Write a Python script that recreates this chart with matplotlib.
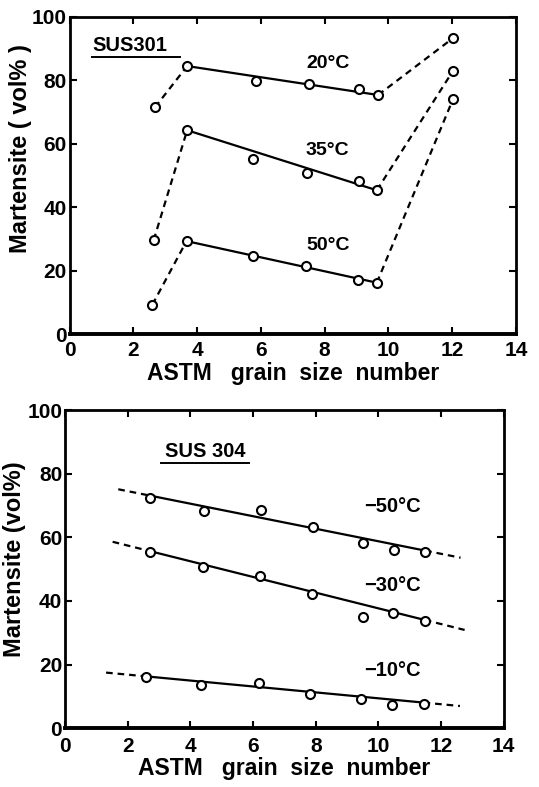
"""Martensite volume vs. ASTM grain size number for SUS301 and SUS304."""

import matplotlib

matplotlib.use("Agg")

import matplotlib.pyplot as plt  # noqa: E402
import numpy as np  # noqa: E402

plt.rcParams["font.family"] = ["Liberation Sans", "DejaVu Sans"]
plt.rcParams["font.weight"] = "bold"

# --- SUS301: measured points (grain size number, martensite vol%) ---
sus301_labels = ["20°C", "35°C", "50°C"]
sus301_x_20 = [2.68, 3.69, 5.85, 7.52, 9.08, 9.68, 12.03]
sus301_y_20 = [71.5, 84.5, 79.9, 78.7, 77.4, 75.4, 93.3]
sus301_x_35 = [2.64, 3.69, 5.76, 7.46, 9.08, 9.64, 12.03]
sus301_y_35 = [29.7, 64.3, 55.4, 50.9, 48.3, 45.4, 83.0]
sus301_x_50 = [2.60, 3.67, 5.74, 7.42, 9.05, 9.64, 12.03]
sus301_y_50 = [9.4, 29.4, 24.7, 21.6, 17.3, 16.3, 74.1]
sus301_label_xy = [(8.1, 85.4), (8.1, 58.0), (8.1, 28.1)]

# --- SUS304: measured points and straight trend lines ---
sus304_labels = ["−50°C", "−30°C", "−10°C"]
sus304_x_m50 = [2.70, 4.44, 6.24, 7.92, 9.50, 10.51, 11.49]
sus304_y_m50 = [72.3, 68.3, 68.6, 63.3, 58.3, 56.0, 55.5]
sus304_x_m30 = [2.70, 4.39, 6.21, 7.89, 9.50, 10.48, 11.48]
sus304_y_m30 = [55.3, 50.6, 47.9, 42.2, 35.1, 36.1, 33.8]
sus304_x_m10 = [2.58, 4.34, 6.18, 7.81, 9.45, 10.44, 11.44]
sus304_y_m10 = [16.0, 13.6, 14.1, 10.8, 9.2, 7.3, 7.6]
trend_x_m50 = [1.70, 12.62]
trend_y_m50 = [75.1, 53.6]
trend_x_m30 = [1.52, 12.75]
trend_y_m30 = [58.6, 30.9]
trend_x_m10 = [1.31, 12.60]
trend_y_m10 = [17.5, 7.0]
sus304_label_xy = [(10.46, 69.6), (10.46, 45.0), (10.46, 18.3)]

x_ticks = [0, 2, 4, 6, 8, 10, 12, 14]
y_ticks = [0, 20, 40, 60, 80, 100]

LW = 1.6
DASH = (0, (3, 2.2))
MARKER = dict(marker="o", ms=6.5, mfc="white", mec="black", mew=1.5, ls="none", zorder=4)
NARROW = ["Liberation Sans Narrow", "Liberation Sans", "DejaVu Sans"]


def style_axes(ax, ylabel, xpad, ylabel_xy):
    """Рамка, засечки внутрь со всех сторон, жирные подписи."""
    ax.set_xlim(0, 14)
    ax.set_ylim(0, 100)
    ax.set_xticks(x_ticks)
    ax.set_yticks(y_ticks)
    ax.tick_params(direction="in", length=5, width=1.5, top=True, right=True)
    ax.tick_params(axis="x", pad=xpad)
    ax.tick_params(axis="y", pad=2)
    for lab in ax.get_xticklabels() + ax.get_yticklabels():
        lab.set_fontweight("bold")
        lab.set_fontsize(15)
        lab.set_family(NARROW)
    for side in ("left", "right", "top"):
        ax.spines[side].set_linewidth(2.0)
    ax.spines["bottom"].set_linewidth(2.8)
    ax.set_xlabel("ASTM   grain  size  number", fontsize=16.5, fontweight="bold", labelpad=1)
    ax.set_ylabel(ylabel, fontsize=17, fontweight="bold", family=NARROW)
    ax.yaxis.set_label_coords(*ylabel_xy)


def draw_sus301(ax, xs, ys):
    # Сплошная прямая по средним точкам, штрих к крайним.
    ax.plot(xs[:2], ys[:2], color="black", lw=LW, ls=DASH)
    ax.plot([xs[1], xs[5]], [ys[1], ys[5]], color="black", lw=LW)
    ax.plot(xs[5:], ys[5:], color="black", lw=LW, ls=DASH)
    ax.plot(xs, ys, **MARKER)


def draw_sus304(ax, xs, ys, tx, ty):
    x_lo, x_hi = xs[0], xs[-1]
    y_lo, y_hi = np.interp([x_lo, x_hi], tx, ty)
    ax.plot([tx[0], x_lo], [ty[0], y_lo], color="black", lw=LW, ls=DASH)
    ax.plot([x_lo, x_hi], [y_lo, y_hi], color="black", lw=LW)
    ax.plot([x_hi, tx[1]], [y_hi, ty[1]], color="black", lw=LW, ls=DASH)
    ax.plot(xs, ys, **MARKER)


fig = plt.figure(figsize=(5.39, 7.87), dpi=100)
ax_top = fig.add_axes([0.129, 0.575, 0.828, 0.4036])
ax_bot = fig.add_axes([0.1206, 0.0746, 0.8141, 0.4044])

# SUS301
for xs, ys in [(sus301_x_20, sus301_y_20), (sus301_x_35, sus301_y_35), (sus301_x_50, sus301_y_50)]:
    draw_sus301(ax_top, xs, ys)
for text, (tx, ty) in zip(sus301_labels, sus301_label_xy):
    ax_top.text(tx, ty, text, fontsize=14, fontweight="bold", ha="center", va="center")
ax_top.text(0.72, 91, "SUS301", fontsize=14.5, fontweight="bold", ha="left", va="center")
ax_top.plot([0.72, 3.46], [87.2, 87.2], color="black", lw=1.4)
style_axes(ax_top, "Martensite ( vol% )", 5, (-0.085, 0.585))

# SUS304
for xs, ys, tx, ty in [
    (sus304_x_m50, sus304_y_m50, trend_x_m50, trend_y_m50),
    (sus304_x_m30, sus304_y_m30, trend_x_m30, trend_y_m30),
    (sus304_x_m10, sus304_y_m10, trend_x_m10, trend_y_m10),
]:
    draw_sus304(ax_bot, xs, ys, tx, ty)
for text, (tx, ty) in zip(sus304_labels, sus304_label_xy):
    ax_bot.text(tx, ty, text, fontsize=14.5, fontweight="bold", ha="center", va="center")
ax_bot.text(4.47, 87, "SUS 304", fontsize=14.5, fontweight="bold", ha="center", va="center")
ax_bot.plot([3.05, 5.88], [83.3, 83.3], color="black", lw=1.4)
style_axes(ax_bot, "Martensite (vol%)", 6, (-0.09, 0.53))

fig.savefig("out.png", dpi=100)
plt.close(fig)
